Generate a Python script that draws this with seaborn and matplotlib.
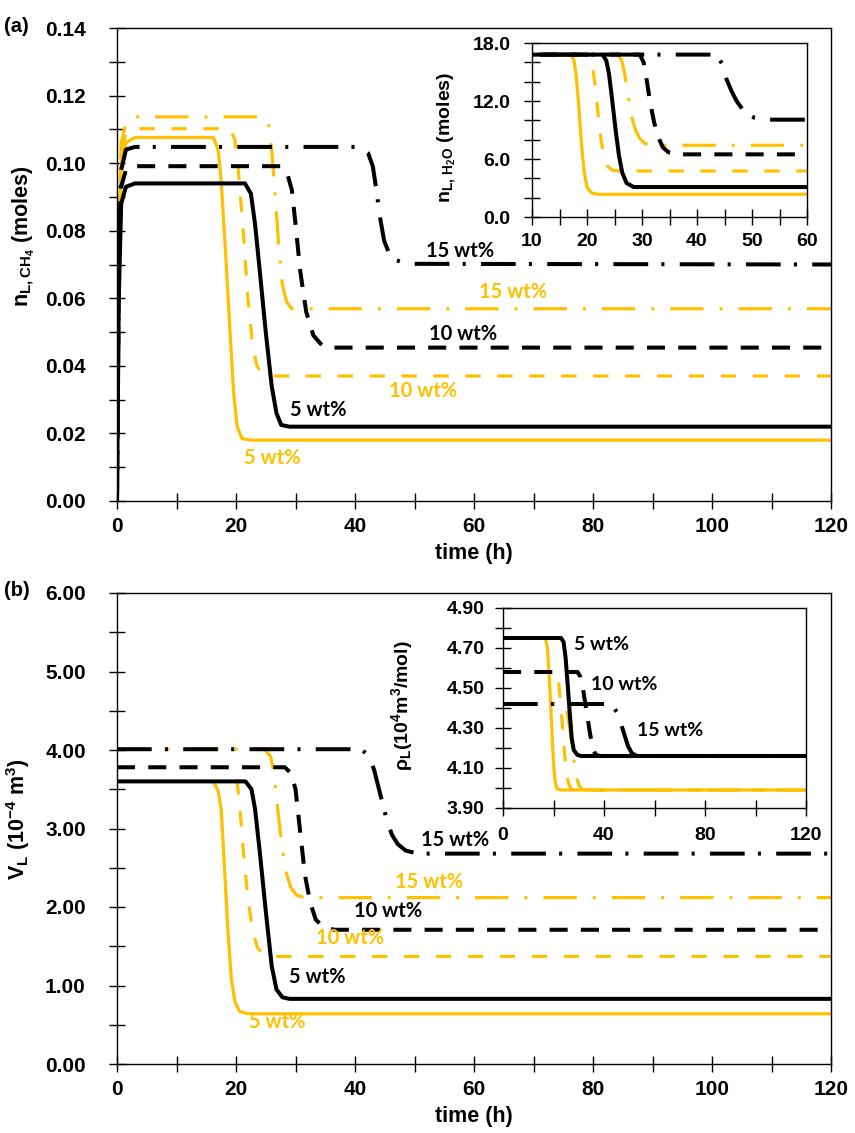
import matplotlib
matplotlib.use("Agg")
import matplotlib.pyplot as plt
import seaborn as sns
from matplotlib.ticker import FormatStrFormatter, FixedLocator

# ------------------------------------------------------------------ data
# (a) main: liquid-phase CH4 moles vs time (h)
a_bk5_t = [0, 0.3, 0.7, 1.5, 3, 21.5, 22.5, 23.2, 24.0, 25.0, 26.0, 26.8, 27.6, 29, 120]
a_bk5_v = [0, 0.060, 0.088, 0.093, 0.094, 0.094, 0.091, 0.082, 0.068, 0.050, 0.034, 0.026, 0.0225, 0.022, 0.022]
a_y5_t = [0, 0.3, 0.7, 1.5, 3, 16.2, 17.0, 17.5, 18.2, 19.0, 19.6, 20.2, 21.0, 22.5, 120]
a_y5_v = [0, 0.075, 0.100, 0.106, 0.1076, 0.1076, 0.104, 0.095, 0.075, 0.050, 0.032, 0.022, 0.0185, 0.018, 0.018]
a_y10_t = [0, 0.3, 0.7, 1.5, 3, 19.0, 19.8, 20.4, 21.2, 22.0, 22.8, 23.5, 24.5, 26, 120]
a_y10_v = [0, 0.078, 0.103, 0.109, 0.1102, 0.1102, 0.107, 0.098, 0.080, 0.060, 0.046, 0.040, 0.0375, 0.037, 0.037]
a_bk10_t = [0, 0.3, 0.7, 1.5, 3, 27.5, 28.6, 29.4, 30.0, 30.8, 31.8, 33.0, 34.5, 36.5, 120]
a_bk10_v = [0, 0.070, 0.093, 0.098, 0.0991, 0.0991, 0.097, 0.092, 0.082, 0.068, 0.056, 0.049, 0.046, 0.0454, 0.0454]
a_y15_t = [0, 0.3, 0.7, 1.5, 3, 24.8, 25.5, 26.0, 26.6, 27.2, 27.8, 28.5, 29.3, 31, 120]
a_y15_v = [0, 0.080, 0.106, 0.112, 0.1137, 0.1137, 0.111, 0.104, 0.090, 0.075, 0.064, 0.059, 0.057, 0.0569, 0.0569]
a_bk15_t = [0, 0.3, 0.7, 1.5, 3, 41.0, 42.2, 43.0, 43.6, 44.2, 44.9, 45.8, 47.0, 49.0, 120]
a_bk15_v = [0, 0.070, 0.098, 0.104, 0.1048, 0.1048, 0.103, 0.099, 0.092, 0.084, 0.077, 0.0730, 0.0712, 0.0702, 0.0700]

# (a) inset: liquid-phase H2O moles
ai_y5_t = [0, 17.0, 17.6, 18.0, 18.5, 19.0, 19.5, 20.0, 20.8, 22, 60]
ai_y5_v = [16.8, 16.8, 16.3, 14.8, 11.5, 7.5, 4.6, 3.1, 2.5, 2.35, 2.35]
ai_y10_t = [0, 20.2, 20.9, 21.4, 22.0, 22.6, 23.2, 23.8, 24.6, 26, 60]
ai_y10_v = [16.8, 16.8, 16.0, 14.0, 10.8, 7.8, 6.0, 5.2, 4.85, 4.76, 4.76]
ai_bk5_t = [0, 22.8, 23.5, 24.0, 24.6, 25.2, 25.8, 26.4, 27.2, 28.5, 60]
ai_bk5_v = [16.8, 16.8, 16.2, 14.8, 12.0, 9.0, 6.4, 4.6, 3.5, 3.1, 3.1]
ai_y15_t = [0, 25.6, 26.3, 26.8, 27.4, 28.0, 28.7, 29.5, 30.5, 32, 60]
ai_y15_v = [16.8, 16.8, 16.2, 15.0, 12.8, 10.6, 9.2, 8.2, 7.6, 7.42, 7.42]
ai_bk10_t = [0, 29.6, 30.3, 30.9, 31.5, 32.2, 33.0, 33.8, 34.8, 36.5, 60]
ai_bk10_v = [16.8, 16.8, 16.0, 14.0, 11.8, 9.8, 8.2, 7.2, 6.7, 6.48, 6.48]
ai_bk15_t = [0, 43.6, 44.6, 45.4, 46.3, 47.2, 48.2, 49.3, 50.5, 52.5, 60]
ai_bk15_v = [16.8, 16.8, 15.8, 14.2, 13.0, 12.0, 11.2, 10.6, 10.25, 10.07, 10.07]

# (b) main: liquid volume (1e-4 m3)
b_y5_t = [0, 16.2, 17.0, 17.5, 18.0, 18.6, 19.2, 19.8, 20.6, 22, 120]
b_y5_v = [3.60, 3.60, 3.48, 3.25, 2.60, 1.75, 1.10, 0.80, 0.67, 0.64, 0.64]
b_y10_t = [0, 19.2, 20.0, 20.5, 21.2, 22.0, 22.8, 23.6, 24.6, 26.5, 120]
b_y10_v = [3.78, 3.78, 3.68, 3.40, 2.75, 2.10, 1.70, 1.48, 1.40, 1.37, 1.37]
b_y15_t = [0, 24.8, 25.8, 26.4, 27.0, 27.7, 28.4, 29.2, 30.2, 31.5, 120]
b_y15_v = [4.01, 4.01, 3.92, 3.70, 3.25, 2.80, 2.45, 2.25, 2.15, 2.12, 2.12]
b_bk5_t = [0, 21.6, 22.6, 23.2, 24.0, 25.0, 26.0, 26.8, 27.8, 29, 120]
b_bk5_v = [3.60, 3.60, 3.50, 3.25, 2.70, 1.95, 1.25, 0.95, 0.85, 0.83, 0.83]
b_bk10_t = [0, 28.2, 29.3, 30.0, 30.8, 31.6, 32.5, 33.4, 34.6, 36.5, 120]
b_bk10_v = [3.78, 3.78, 3.70, 3.50, 2.95, 2.40, 2.05, 1.84, 1.75, 1.71, 1.71]
b_bk15_t = [0, 41.0, 42.3, 43.2, 44.2, 45.2, 46.2, 47.2, 48.5, 50.5, 120]
b_bk15_v = [4.01, 4.01, 3.93, 3.75, 3.45, 3.15, 2.92, 2.80, 2.72, 2.68, 2.68]

# (b) inset: liquid density
bi_y5_t = [0, 16.8, 17.6, 18.3, 19.0, 19.6, 20.2, 20.8, 21.5, 23, 120]
bi_y5_v = [4.75, 4.75, 4.70, 4.56, 4.38, 4.22, 4.09, 4.02, 3.995, 3.99, 3.99]
bi_y10_t = [0, 21.0, 22.0, 22.8, 23.6, 24.4, 25.2, 26.0, 27.0, 28.5, 120]
bi_y10_v = [4.58, 4.58, 4.53, 4.43, 4.30, 4.17, 4.07, 4.02, 3.995, 3.99, 3.99]
bi_y15_t = [0, 24.0, 25.2, 26.2, 27.2, 28.2, 29.2, 30.2, 31.2, 33, 120]
bi_y15_v = [4.42, 4.42, 4.39, 4.32, 4.23, 4.13, 4.05, 4.01, 3.995, 3.99, 3.99]
bi_bk5_t = [0, 23.0, 24.0, 24.8, 25.6, 26.4, 27.2, 28.0, 29.5, 31, 120]
bi_bk5_v = [4.75, 4.75, 4.73, 4.65, 4.52, 4.38, 4.25, 4.19, 4.165, 4.16, 4.16]
bi_bk10_t = [0, 29.5, 30.5, 31.5, 32.5, 33.5, 34.5, 35.5, 36.5, 38, 120]
bi_bk10_v = [4.58, 4.58, 4.56, 4.51, 4.43, 4.35, 4.27, 4.20, 4.17, 4.16, 4.16]
bi_bk15_t = [0, 42.0, 43.5, 45.0, 46.5, 48.0, 49.5, 51.0, 52.5, 54, 120]
bi_bk15_v = [4.42, 4.42, 4.41, 4.38, 4.33, 4.27, 4.21, 4.175, 4.163, 4.16, 4.16]

# tick definitions
a_xticks = [0, 20, 40, 60, 80, 100, 120]
a_yticks = [0.00, 0.02, 0.04, 0.06, 0.08, 0.10, 0.12, 0.14]
b_yticks = [0.00, 1.00, 2.00, 3.00, 4.00, 5.00, 6.00]
ai_xticks = [10, 20, 30, 40, 50, 60]
ai_yticks = [0.0, 6.0, 12.0, 18.0]
bi_xticks = [0, 40, 80, 120]
bi_yticks = [3.90, 4.10, 4.30, 4.50, 4.70, 4.90]

# annotation labels: (text, x, y, colour-key)
a_labels = [("15 wt%", 57.6, 0.0741, "k"), ("15 wt%", 66.5, 0.0618, "y"),
            ("10 wt%", 58.1, 0.0494, "k"), ("10 wt%", 51.4, 0.0326, "y"),
            ("5 wt%", 33.9, 0.0269, "k"), ("5 wt%", 26.1, 0.0128, "y")]
b_labels = [("15 wt%", 56.8, 2.85, "k"), ("15 wt%", 52.5, 2.32, "y"),
            ("10 wt%", 45.6, 1.95, "k"), ("10 wt%", 39.1, 1.61, "y"),
            ("5 wt%", 33.6, 1.11, "k"), ("5 wt%", 26.9, 0.53, "y")]
bi_labels = [("5 wt%", 38.9, 4.72, "k"), ("10 wt%", 48.0, 4.52, "k"),
             ("15 wt%", 66.2, 4.29, "k")]

# ------------------------------------------------------------------ style
sns.set_theme(style="white")
plt.rcParams["font.family"] = ["Liberation Sans", "DejaVu Sans"]
plt.rcParams["font.weight"] = "bold"
plt.rcParams["mathtext.fontset"] = "custom"
plt.rcParams["mathtext.rm"] = "Liberation Sans:bold"
plt.rcParams["mathtext.it"] = "Liberation Sans:bold"
plt.rcParams["mathtext.bf"] = "Liberation Sans:bold"
plt.rcParams["mathtext.default"] = "rm"
plt.rcParams["lines.scale_dashes"] = False
TICK_MAIN = 15
TICK_INSET = 14
LAB_MAIN = 15.5
LAB_INSET = 14

GOLD = "#FFC000"
BLACK = "#000000"
COL = {"k": BLACK, "y": GOLD}
DASH_K = (13, 9.5)
DASH_Y = (11, 12)
DD_K = (25, 9.5, 2.2, 11)
DD_Y = (24, 11.5, 2.2, 11.5)
LW_K = 2.9
LW_Y = 2.3

W, H = 855, 1133
fig = plt.figure(figsize=(W / 100, H / 100), dpi=100)


def frac(l, t, r, b):
    return [l / W, 1 - b / H, (r - l) / W, (b - t) / H]


ax_a = fig.add_axes(frac(117, 28, 831, 501))
ax_b = fig.add_axes(frac(117, 593, 831, 1064))
ax_ai = fig.add_axes(frac(532, 43, 807, 217))
ax_bi = fig.add_axes(frac(503, 608, 806, 808))


def draw(ax, t, v, color, dashes, lw):
    sns.lineplot(x=t, y=v, ax=ax, color=color, linewidth=lw, sort=False,
                 estimator=None, errorbar=None, legend=False)
    ln = ax.lines[-1]
    if dashes is not None:
        ln.set_dashes(dashes)
    ln.set_dash_capstyle("butt")


def style_axes(ax, xlim, ylim, xticks, xminor, yticks, yminor, yfmt,
               size, xpad, ypad, tlen):
    ax.set_xlim(*xlim)
    ax.set_ylim(*ylim)
    ax.xaxis.set_major_locator(FixedLocator(xticks))
    ax.xaxis.set_minor_locator(FixedLocator(xminor))
    ax.yaxis.set_major_locator(FixedLocator(yticks))
    ax.yaxis.set_minor_locator(FixedLocator(yminor))
    ax.yaxis.set_major_formatter(FormatStrFormatter(yfmt))
    ax.xaxis.set_major_formatter(FormatStrFormatter("%d"))
    ax.tick_params(which="both", direction="inout", length=tlen, width=1.0,
                   color=BLACK, top=False, right=False, bottom=True, left=True)
    ax.tick_params(axis="x", labelsize=size, pad=xpad)
    ax.tick_params(axis="y", labelsize=size, pad=ypad)
    for lab in ax.get_xticklabels() + ax.get_yticklabels():
        lab.set_fontweight("bold")
        lab.set_color(BLACK)
    for s in ax.spines.values():
        s.set_visible(True)
        s.set_color(BLACK)
        s.set_linewidth(1.0)
    ax.set_facecolor("white")
    ax.grid(False)


# ------------------------------------------------------------------ panel (a)
draw(ax_a, a_y5_t, a_y5_v, GOLD, None, LW_Y)
draw(ax_a, a_y10_t, a_y10_v, GOLD, DASH_Y, LW_Y)
draw(ax_a, a_y15_t, a_y15_v, GOLD, DD_Y, LW_Y)
draw(ax_a, a_bk5_t, a_bk5_v, BLACK, None, LW_K)
draw(ax_a, a_bk10_t, a_bk10_v, BLACK, DASH_K, LW_K)
draw(ax_a, a_bk15_t, a_bk15_v, BLACK, DD_K, LW_K)
style_axes(ax_a, (0, 120), (0, 0.14), a_xticks, [10, 30, 50, 70, 90, 110],
           a_yticks, [0.01, 0.03, 0.05, 0.07, 0.09, 0.11, 0.13], "%.2f",
           TICK_MAIN, 6, 17, 11)
ax_a.set_xlabel("time (h)", fontsize=LAB_MAIN, fontweight="bold", color=BLACK, labelpad=5)
ax_a.set_ylabel(r"n$_{\mathrm{L,CH_4}}$ (moles)", fontsize=LAB_MAIN, fontweight="bold", color=BLACK)
ax_a.yaxis.set_label_coords(-0.113, 0.56)
for s, x, y, c in a_labels:
    ax_a.text(x, y, s, color=COL[c], fontsize=14.5, fontweight="bold",
              family=["Lato", "DejaVu Sans"], ha="center", va="center")

# inset (a)
draw(ax_ai, ai_y5_t, ai_y5_v, GOLD, None, LW_Y)
draw(ax_ai, ai_y10_t, ai_y10_v, GOLD, DASH_Y, LW_Y)
draw(ax_ai, ai_y15_t, ai_y15_v, GOLD, DD_Y, LW_Y)
draw(ax_ai, ai_bk5_t, ai_bk5_v, BLACK, None, LW_K)
draw(ax_ai, ai_bk10_t, ai_bk10_v, BLACK, DASH_K, LW_K)
draw(ax_ai, ai_bk15_t, ai_bk15_v, BLACK, DD_K, LW_K)
style_axes(ax_ai, (10, 60), (0, 18), ai_xticks, [15, 25, 35, 45, 55],
           ai_yticks, [2, 4, 8, 10, 14, 16], "%.1f", TICK_INSET, 6, 10, 11)
ax_ai.set_ylabel(r"n$_{\mathrm{L,\,H_2O}}$ (moles)", fontsize=LAB_INSET, fontweight="bold", color=BLACK)
ax_ai.yaxis.set_label_coords(-0.27, 0.46)

# ------------------------------------------------------------------ panel (b)
draw(ax_b, b_y5_t, b_y5_v, GOLD, None, LW_Y)
draw(ax_b, b_y10_t, b_y10_v, GOLD, DASH_Y, LW_Y)
draw(ax_b, b_y15_t, b_y15_v, GOLD, DD_Y, LW_Y)
draw(ax_b, b_bk5_t, b_bk5_v, BLACK, None, LW_K)
draw(ax_b, b_bk10_t, b_bk10_v, BLACK, DASH_K, LW_K)
draw(ax_b, b_bk15_t, b_bk15_v, BLACK, DD_K, LW_K)
style_axes(ax_b, (0, 120), (0, 6), a_xticks, [10, 30, 50, 70, 90, 110],
           b_yticks, [0.5, 1.5, 2.5, 3.5, 4.5, 5.5], "%.2f", TICK_MAIN, 6, 17, 11)
ax_b.set_xlabel("time (h)", fontsize=LAB_MAIN, fontweight="bold", color=BLACK, labelpad=5)
ax_b.set_ylabel(r"V$_{\mathrm{L}}$ (10$^{\mathrm{-4}}$ m$^{\mathrm{3}}$)", fontsize=LAB_MAIN,
                fontweight="bold", color=BLACK)
ax_b.yaxis.set_label_coords(-0.119, 0.52)
for s, x, y, c in b_labels:
    ax_b.text(x, y, s, color=COL[c], fontsize=14.5, fontweight="bold",
              family=["Lato", "DejaVu Sans"], ha="center", va="center")

# inset (b)
draw(ax_bi, bi_y5_t, bi_y5_v, GOLD, None, LW_Y)
draw(ax_bi, bi_y10_t, bi_y10_v, GOLD, DASH_Y, LW_Y)
draw(ax_bi, bi_y15_t, bi_y15_v, GOLD, DD_Y, LW_Y)
draw(ax_bi, bi_bk5_t, bi_bk5_v, BLACK, None, LW_K)
draw(ax_bi, bi_bk10_t, bi_bk10_v, BLACK, DASH_K, LW_K)
draw(ax_bi, bi_bk15_t, bi_bk15_v, BLACK, DD_K, LW_K)
style_axes(ax_bi, (0, 120), (3.9, 4.9), bi_xticks, [20, 60, 100],
           bi_yticks, [4.0, 4.2, 4.4, 4.6, 4.8], "%.2f", TICK_INSET, 8, 8, 11)
ax_bi.set_ylabel(r"ρ$_{\mathrm{L}}$(10$^{\mathrm{4}}$m$^{\mathrm{3}}$/mol)", fontsize=LAB_INSET,
                 fontweight="bold", color=BLACK)
ax_bi.yaxis.set_label_coords(-0.29, 0.51)
for s, x, y, c in bi_labels:
    ax_bi.text(x, y, s, color=COL[c], fontsize=14, fontweight="bold",
               family=["Lato", "DejaVu Sans"], ha="center", va="center")

# panel letters
fig.text(4 / W, 1 - 26 / H, "(a)", fontsize=14.5, fontweight="bold", ha="left", va="center", color=BLACK)
fig.text(4 / W, 1 - 591 / H, "(b)", fontsize=14.5, fontweight="bold", ha="left", va="center", color=BLACK)

fig.savefig("out.png", dpi=100, facecolor="white")
